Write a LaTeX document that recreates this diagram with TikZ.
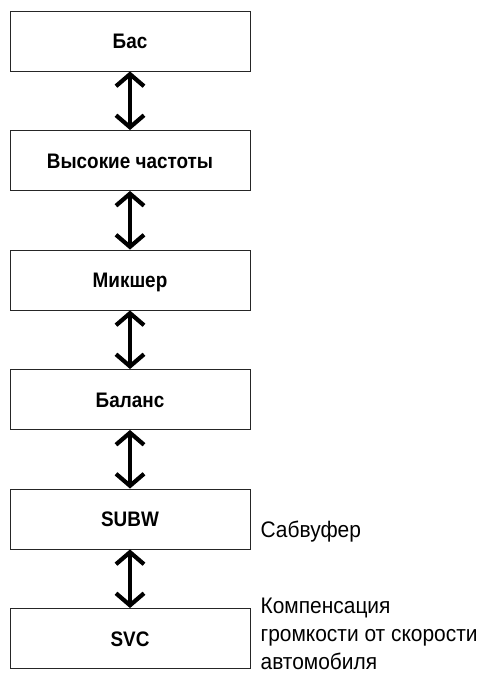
\documentclass[tikz,border=0pt]{standalone}
\usepackage{fontspec}
\setmainfont{Liberation Sans}[FakeStretch=0.9]
\newfontfamily\notefont{Liberation Sans}[FakeStretch=0.93]
\usetikzlibrary{arrows.meta,positioning}

\begin{document}
\begin{tikzpicture}[x=1pt,y=1pt,
  menubox/.style={draw=black!85,line width=0.9pt,minimum width=240pt,minimum height=60pt,
    inner sep=0pt,text height=15pt,text depth=0pt,font=\fontsize{21}{26}\selectfont\bfseries},
  barb/.tip={Straight Barb[length=12pt,width=28pt,line cap=butt,line join=miter]},
  updown/.style={barb-barb,line width=4.2pt},
  note/.style={inner sep=0pt,align=left,font=\notefont\fontsize{22.5}{28}\selectfont}]
  \useasboundingbox (0,0) rectangle (490,-673);
  % menu items, top to bottom
  \node[menubox] (bass) at (130,-41) {Бас};
  \node[menubox,below=58.6pt of bass] (treble) {Высокие частоты};
  \node[menubox,below=58.6pt of treble] (mixer) {Микшер};
  \node[menubox,below=58.6pt of mixer] (balance) {Баланс};
  \node[menubox,below=58.6pt of balance] (subw) {SUBW};
  \node[menubox,below=58.6pt of subw] (svc) {SVC};
  % two-way arrows between neighbours
  \foreach \a/\b in {bass/treble,treble/mixer,mixer/balance,balance/subw,subw/svc}
    \draw[updown] (\a) -- (\b);
  % notes on the right
  \node[note,anchor=base west] (subwnote) at ([xshift=10pt,yshift=-18pt]subw.east) {Сабвуфер};
  \node[note,anchor=north west] (svcnote) at ([xshift=10pt,yshift=41pt]svc.east)
    {Компенсация\\громкости от скорости\\автомобиля};
\end{tikzpicture}
\end{document}
